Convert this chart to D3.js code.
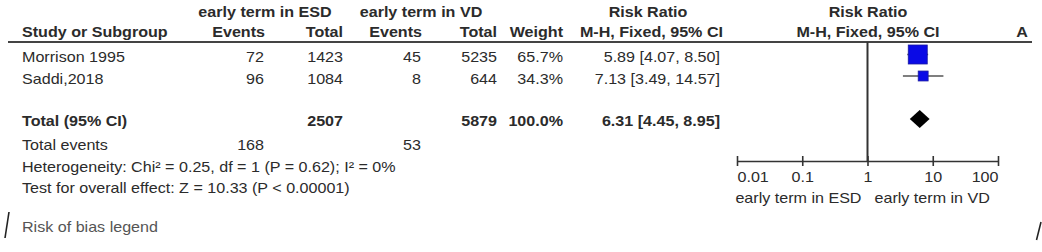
<!DOCTYPE html>
<html>
<head>
<meta charset="utf-8">
<script src="https://cdn.jsdelivr.net/npm/d3@7"></script>
<style>
  body { margin: 0; background: #fff; }
  svg text { font-family: "Liberation Sans", Arial, sans-serif; font-size: 14px; fill: #2b2b2b; }
</style>
</head>
<body>
<div id="chart"></div>
<script>
document.addEventListener("DOMContentLoaded", function () {

    // Study rows
    var studies = ["Morrison 1995", "Saddi,2018"];
    var esdEvents = [72, 96];
    var esdTotal = [1423, 1084];
    var vdEvents = [45, 8];
    var vdTotal = [5235, 644];
    var weights = [65.7, 34.3];
    var ratio = [5.89, 7.13];
    var ciLow = [4.07, 3.49];
    var ciHigh = [8.50, 14.57];

    // Pooled result
    var totalEsd = 2507, totalVd = 5879;
    var eventsEsd = 168, eventsVd = 53;
    var pooled = [6.31, 4.45, 8.95];

    var ticks = [0.01, 0.1, 1, 10, 100];

    var w = 1042, h = 252;
    var sx = 1.15;  // the source text is a bit wider than Arial

    var svg = d3.select("#chart")
      .append("svg")
      .attr("width", w)
      .attr("height", h);

    svg.append("rect").attr("width", w).attr("height", h).attr("fill", "#fff");

    function label(x, y, str, anchor, bold, color) {
      return svg.append("text")
        .attr("transform", "translate(" + x + "," + y + ") scale(" + sx + ",1)")
        .attr("text-anchor", anchor || "start")
        .attr("font-weight", bold ? "bold" : null)
        .style("fill", color || null)
        .text(str);
    }

    // column anchors
    var colStudy = 22, colEsdEv = 264, colEsdTot = 343, colVdEv = 421, colVdTot = 497,
        colWeight = 563, colCI = 720;

    // header
    label(265, 16.5, "early term in ESD", "middle", true);
    label(421, 16.5, "early term in VD", "middle", true);
    label(648, 16.5, "Risk Ratio", "middle", true);
    label(868, 16.5, "Risk Ratio", "middle", true);
    label(colStudy, 37, "Study or Subgroup", "start", true);
    label(colEsdEv + 1, 37, "Events", "end", true);
    label(colEsdTot, 37, "Total", "end", true);
    label(colVdEv + 1, 37, "Events", "end", true);
    label(colVdTot, 37, "Total", "end", true);
    label(colWeight, 37, "Weight", "end", true);
    label(723, 37, "M-H, Fixed, 95% CI", "end", true);
    label(868, 37, "M-H, Fixed, 95% CI", "middle", true);
    label(1022, 37, "A", "middle", true);

    svg.append("line")
      .attr("x1", 8).attr("x2", 1032)
      .attr("y1", 42).attr("y2", 42)
      .attr("stroke", "#444").attr("stroke-width", 2);

    // study rows
    var rowY = d3.scalePoint().domain(studies).range([62, 83.5]);

    studies.forEach(function (s, i) {
      var y = rowY(s);
      label(colStudy, y, s);
      label(colEsdEv, y, esdEvents[i], "end");
      label(colEsdTot, y, esdTotal[i], "end");
      label(colVdEv, y, vdEvents[i], "end");
      label(colVdTot, y, vdTotal[i], "end");
      label(colWeight, y, weights[i].toFixed(1) + "%", "end");
      label(colCI, y, ratio[i].toFixed(2) + " [" + ciLow[i].toFixed(2) + ", " + ciHigh[i].toFixed(2) + "]", "end");
    });

    // totals
    label(colStudy, 125.5, "Total (95% CI)", "start", true);
    label(colEsdTot, 125.5, totalEsd, "end", true);
    label(colVdTot, 125.5, totalVd, "end", true);
    label(colWeight, 125.5, "100.0%", "end", true);
    label(colCI, 125.5, pooled[0].toFixed(2) + " [" + pooled[1].toFixed(2) + ", " + pooled[2].toFixed(2) + "]", "end", true);
    label(colStudy, 149.5, "Total events");
    label(colEsdEv, 149.5, eventsEsd, "end");
    label(colVdEv, 149.5, eventsVd, "end");
    label(colStudy, 171.5, "Heterogeneity: Chi\u00b2 = 0.25, df = 1 (P = 0.62); I\u00b2 = 0%");
    label(colStudy, 193, "Test for overall effect: Z = 10.33 (P < 0.00001)");
    label(colStudy, 231.5, "Risk of bias legend", "start", false, "#555");

    // forest plot
    var xScale = d3.scaleLog().domain([0.01, 100]).range([737, 998]);
    var size = d3.scaleLinear().domain([0, 65.7]).range([0, 19]);
    var axisY = 161;

    svg.append("line")
      .attr("x1", xScale(1)).attr("x2", xScale(1))
      .attr("y1", 42).attr("y2", axisY)
      .attr("stroke", "#333").attr("stroke-width", 2);

    var marks = svg.append("g");
    studies.forEach(function (s, i) {
      var y = rowY(s) - 7.5;
      marks.append("line")
        .attr("x1", xScale(ciLow[i])).attr("x2", xScale(ciHigh[i]))
        .attr("y1", y).attr("y2", y)
        .attr("stroke", "#555").attr("stroke-width", 1.5);
      var sz = size(weights[i]);
      marks.append("rect")
        .attr("x", xScale(ratio[i]) - sz / 2).attr("y", y - sz / 2)
        .attr("width", sz).attr("height", sz)
        .attr("fill", "#0a0ae6").attr("stroke", "#1a1aa0").attr("stroke-width", 0.8);
    });

    var dy = 119;
    marks.append("path")
      .attr("d", "M" + xScale(pooled[1]) + "," + dy +
                 "L" + xScale(pooled[0]) + "," + (dy - 9) +
                 "L" + xScale(pooled[2]) + "," + dy +
                 "L" + xScale(pooled[0]) + "," + (dy + 9) + "Z")
      .attr("fill", "#000");

    var xAxis = d3.axisBottom(xScale)
      .tickValues(ticks)
      .tickFormat(d => String(d))
      .tickSize(5)
      .tickSizeOuter(0);

    var ax = svg.append("g")
      .attr("transform", "translate(0," + axisY + ")")
      .call(xAxis);
    ax.select(".domain").attr("stroke", "#333").attr("stroke-width", 1.6);
    ax.selectAll(".tick line").attr("y1", -5).attr("y2", 5).attr("stroke", "#333").attr("stroke-width", 1.6);
    ax.selectAll(".tick text")
      .attr("y", 0).attr("dy", null)
      .attr("transform", "translate(0,21) scale(" + sx + ",1)")
      .attr("font-family", null).attr("font-size", null)
      .attr("text-anchor", (d, i) => i === 0 ? "start" : (i === ticks.length - 1 ? "end" : "middle"));

    label(xScale(1) - 6, 203, "early term in ESD", "end");
    label(xScale(1) + 7, 203, "early term in VD", "start");

    // stray border marks at the bottom
    svg.append("path").attr("d", "M9,212L5,238")
      .attr("stroke", "#222").attr("stroke-width", 1.6).attr("fill", "none");
    svg.append("path").attr("d", "M1041,222L1036.5,240")
      .attr("stroke", "#222").attr("stroke-width", 1.6).attr("fill", "none");
});
</script>
</body>
</html>
